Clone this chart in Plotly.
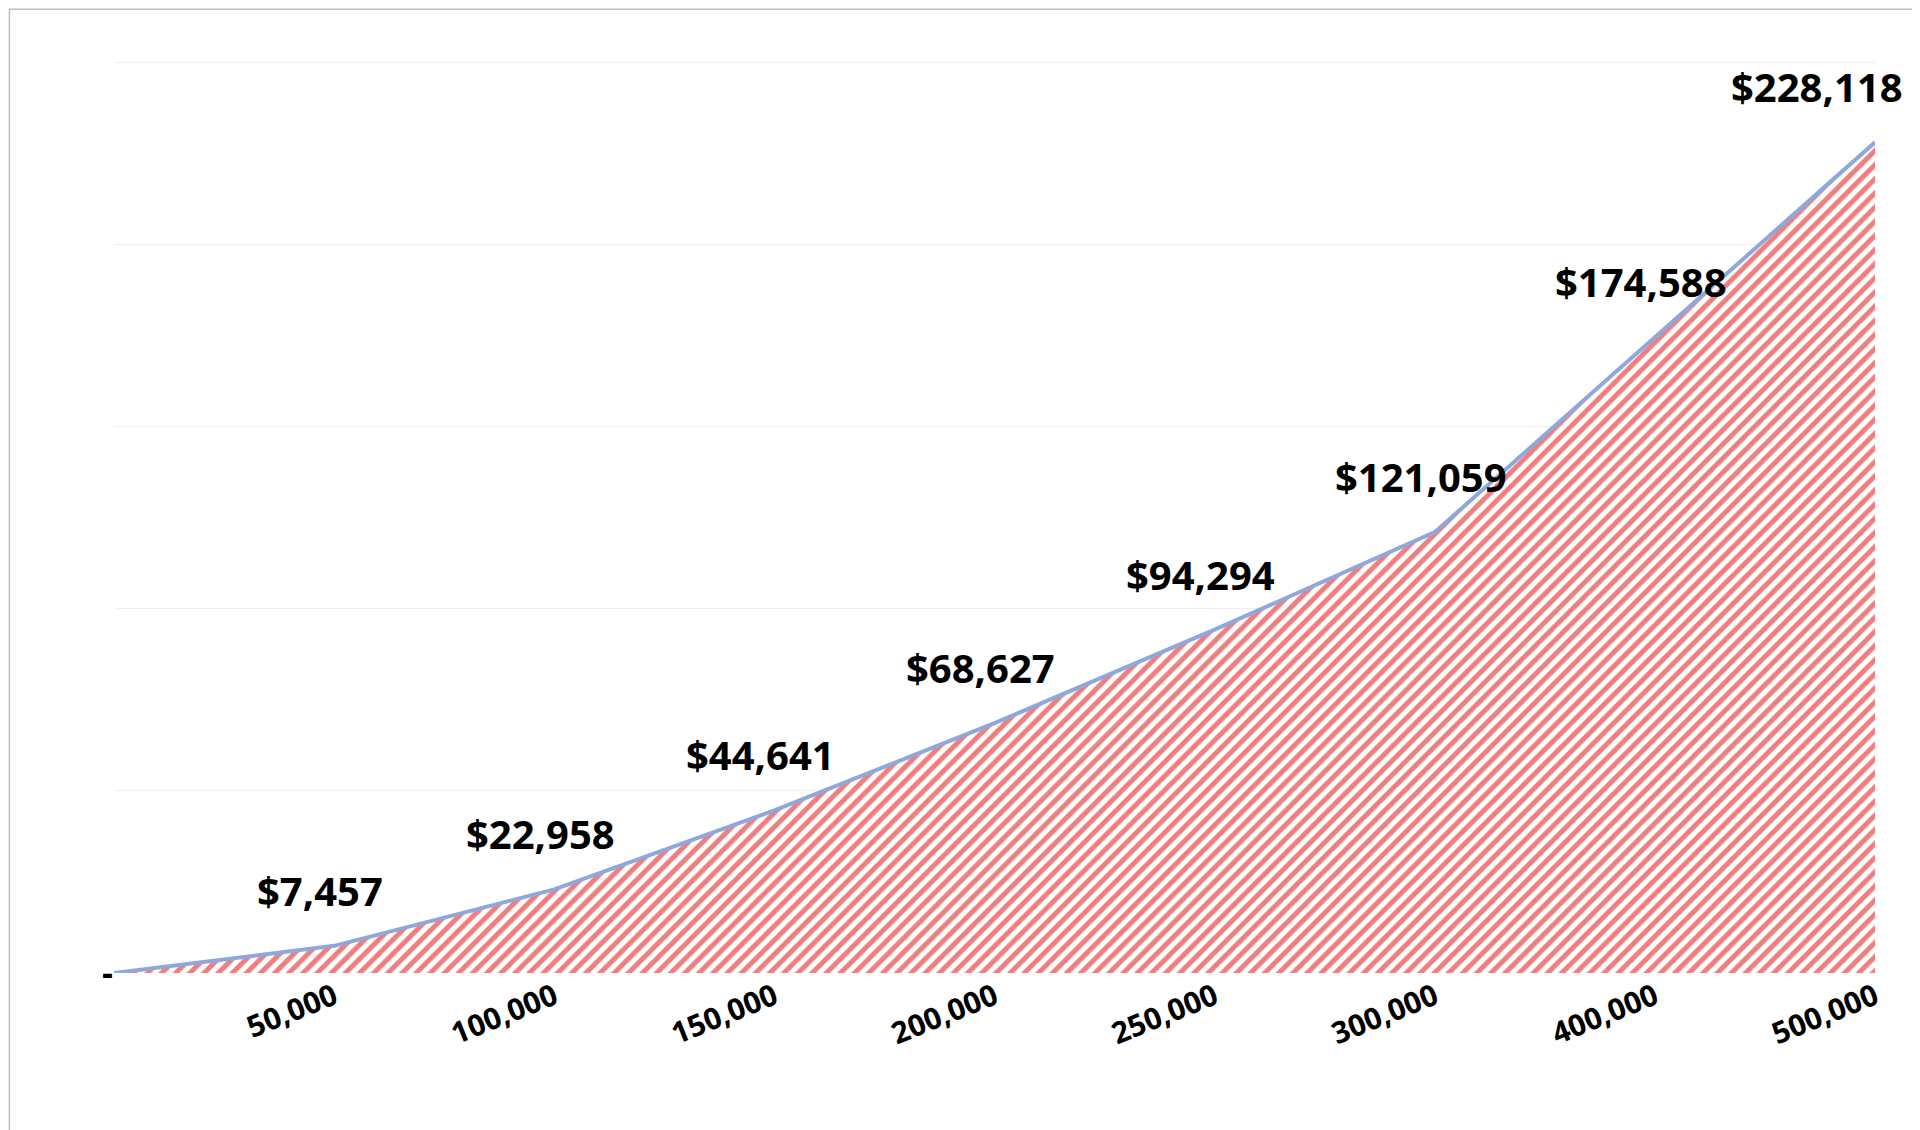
import plotly.graph_objects as go

categories = ["", "50,000", "100,000", "150,000", "200,000", "250,000", "300,000", "400,000", "500,000"]
values = [0, 7457, 22958, 44641, 68627, 94294, 121059, 174588, 228118]
labels = ["", "$7,457", "$22,958", "$44,641", "$68,627", "$94,294", "$121,059", "$174,588", "$228,118"]

xs = list(range(len(categories)))
fig = go.Figure(go.Scatter(
    x=xs, y=values, mode="lines", fill="tozeroy",
    line=dict(color="#8fa8dc", width=4),
    fillcolor="white",
    fillpattern=dict(shape="/", fgcolor="#e00000", bgcolor="white", size=10, solidity=0.5),
    hoverinfo="skip"))

for i in range(1, len(xs)):
    fig.add_annotation(x=xs[i], y=values[i], text=labels[i], showarrow=False,
                       yanchor="bottom", yshift=26, xshift=(-58 if i == len(xs) - 1 else -14),
                       font=dict(family="Open Sans", size=40, color="black", weight="bold"))

L, R, T, B = 106, 53, 51, 165
W, H = 1920 - L - R, 1130 - T - B
fig.add_shape(type="rect", xref="paper", yref="paper",
              x0=-L / W + 0.0008, x1=1 + R / W - 0.0008, y0=-B / H + 0.0015, y1=1 + T / H - 0.0015,
              line=dict(color="#bfbfbf", width=1.5))

fig.update_layout(
    width=1920, height=1130, margin=dict(l=L, r=R, t=T, b=B),
    plot_bgcolor="white", paper_bgcolor="white", showlegend=False,
    xaxis=dict(range=[0, 8], tickvals=xs, ticktext=categories, tickangle=-22, showgrid=False,
               zeroline=False, ticks="", tickfont=dict(family="Open Sans", size=30, color="black", weight="bold")),
    yaxis=dict(range=[0, 251000], tickvals=[0, 50000, 100000, 150000, 200000, 250000],
               ticktext=["-", "", "", "", "", ""], showgrid=True, gridcolor="#eeeeee", zeroline=False,
               tickfont=dict(family="Open Sans", size=34, color="black", weight="bold")),
)
fig.write_html("out.html")
